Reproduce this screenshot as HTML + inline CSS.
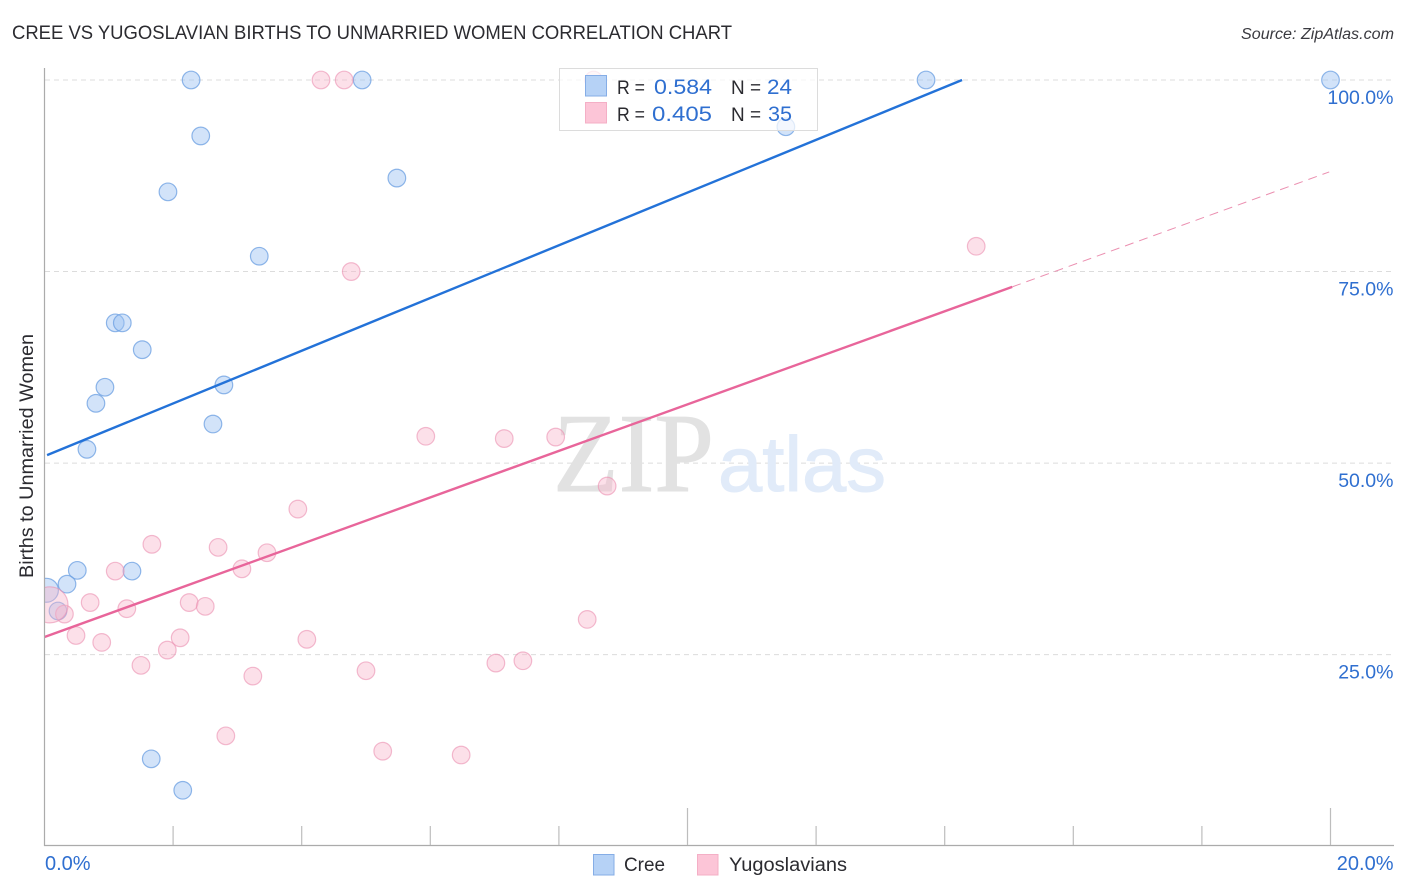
<!DOCTYPE html>
<html>
<head>
<meta charset="utf-8">
<title>Cree vs Yugoslavian Births to Unmarried Women Correlation Chart</title>
<style>
html,body{margin:0;padding:0;background:#fff;width:1406px;height:892px;overflow:hidden}
svg{display:block}
text{font-family:"Liberation Sans",sans-serif}
</style>
</head>
<body>
<svg id="chart" width="1406" height="892" viewBox="0 0 1406 892">
  <text x="12" y="39" font-size="19" fill="#2b2b30" textLength="720" lengthAdjust="spacingAndGlyphs">CREE VS YUGOSLAVIAN BIRTHS TO UNMARRIED WOMEN CORRELATION CHART</text>
  <text x="1241" y="39" font-size="15.5" font-style="italic" fill="#3a3a40" textLength="153" lengthAdjust="spacingAndGlyphs">Source: ZipAtlas.com</text>
  <text transform="translate(33,578) rotate(-90)" font-size="19" fill="#2b2b30" textLength="244" lengthAdjust="spacingAndGlyphs">Births to Unmarried Women</text>

  <g id="grid"></g>

  <g>
    <text x="553" y="491" font-size="112" fill="#e2e2e2" stroke="#e2e2e2" stroke-width="1" textLength="161" lengthAdjust="spacingAndGlyphs" style="font-family:'Liberation Serif',serif">ZIP</text>
    <text x="718" y="491" font-size="78" fill="#e1ebf9" stroke="#e1ebf9" stroke-width="1" textLength="168" lengthAdjust="spacingAndGlyphs">atlas</text>
  </g>

  <defs>
    <clipPath id="plot-clip"><rect x="45" y="60" width="1361" height="786"></rect></clipPath>
  </defs>
  <g id="points" clip-path="url(#plot-clip)"></g>
  <g id="trends"></g>
  <g id="axes"></g>

  <g>
    <rect x="559.5" y="68.5" width="258" height="62" fill="#ffffff" fill-opacity="0.72" stroke="#dcdcdc"></rect>
    <rect x="585.5" y="75.5" width="21" height="20.5" fill="#b6d2f6" stroke="#85ade6"></rect>
    <rect x="585.5" y="102.5" width="21" height="20.5" fill="#fcc5d7" stroke="#f4afc6"></rect>
    <text x="617" y="94" font-size="19.5" fill="#2b2b30" textLength="28" lengthAdjust="spacingAndGlyphs">R =</text>
    <text x="654" y="94" font-size="21" fill="#2f6fd0" textLength="58" lengthAdjust="spacingAndGlyphs">0.584</text>
    <text x="731" y="94" font-size="19.5" fill="#2b2b30" textLength="30" lengthAdjust="spacingAndGlyphs">N =</text>
    <text x="767" y="94" font-size="21" fill="#2f6fd0" textLength="25" lengthAdjust="spacingAndGlyphs">24</text>
    <text x="617" y="121" font-size="19.5" fill="#2b2b30" textLength="28" lengthAdjust="spacingAndGlyphs">R =</text>
    <text x="652" y="121" font-size="21" fill="#2f6fd0" textLength="60" lengthAdjust="spacingAndGlyphs">0.405</text>
    <text x="731" y="121" font-size="19.5" fill="#2b2b30" textLength="30" lengthAdjust="spacingAndGlyphs">N =</text>
    <text x="768" y="121" font-size="21" fill="#2f6fd0" textLength="24" lengthAdjust="spacingAndGlyphs">35</text>
  </g>

  <g>
    <rect x="593.5" y="854.5" width="20.5" height="20.5" fill="#b6d2f6" stroke="#85ade6"></rect>
    <text x="624" y="871" font-size="19" fill="#2b2b30" textLength="41" lengthAdjust="spacingAndGlyphs">Cree</text>
    <rect x="697.5" y="854.5" width="20.5" height="20.5" fill="#fcc5d7" stroke="#f4afc6"></rect>
    <text x="729" y="871" font-size="19" fill="#2b2b30" textLength="118" lengthAdjust="spacingAndGlyphs">Yugoslavians</text>
  </g>
</svg>
<script>
var creeX = [2.28,2.43,1.92,4.94,5.48,13.71,20,11.53,3.34,1.10,1.21,1.52,2.79,0.94,0.80,2.62,0.66,0.51,1.36,0.35,0.03,0.21,1.66,2.15];
var creeY = [100,92.7,85.4,100,87.2,100,100,93.9,77.0,68.3,68.3,64.8,60.2,59.9,57.8,55.1,51.8,36.0,35.9,34.2,33.4,30.7,11.4,7.3];
var creeWeight = [1,1,1,1,1,1,1,1,1,1,1,1,1,1,1,1,1,1,1,1,1.85,1,1,1];
var yugoX = [4.30,4.66,14.49,4.77,5.93,7.15,7.95,8.75,3.94,1.67,2.70,3.46,1.10,3.07,0.71,2.25,2.50,1.28,8.44,0.31,0.085,0.49,0.89,2.11,4.08,1.91,1.50,3.24,5.00,7.02,7.44,2.82,5.26,6.48,8.54];
var yugoY = [100,100,78.3,75.0,53.5,53.2,53.4,47.0,44.0,39.4,39.0,38.3,35.9,36.2,31.8,31.8,31.3,31.0,29.6,30.3,31.5,27.5,26.6,27.2,27.0,25.6,23.6,22.2,22.9,23.9,24.2,14.4,12.4,11.9,100];
var yugoWeight = [1,1,1,1,1,1,1,1,1,1,1,1,1,1,1,1,1,1,1,1,4.2,1,1,1,1,1,1,1,1,1,1,1,1,1,1];
var creeTrendX = [0.04,14.27];
var creeTrendY = [51.04,100];
var yugoTrendX = [0,15.05];
var yugoTrendY = [27.3,73.0];
var yugoDashX = [15.05,19.98];
var yugoDashY = [73.0,88.0];
var yTickValues = [100,75,50,25];
var yTickLabels = ['100.0%','75.0%','50.0%','25.0%'];
var xTickValues = [0,2,4,6,8,10,12,14,16,18,20];
var xTickMajor = [1,0,0,0,0,1,0,0,0,0,1];
var xEndValues = [0,20];
var xEndLabels = ['0.0%','20.0%'];

var NS = 'http://www.w3.org/2000/svg';
function sx(v){ return 44.5 + v * 64.3; }
function sy(v){ return 846.2 - v * 7.662; }
function mk(parent, tag, attrs){
  var el = document.createElementNS(NS, tag);
  for (var k in attrs) el.setAttribute(k, attrs[k]);
  parent.appendChild(el);
  return el;
}

var grid = document.getElementById('grid');
yTickValues.forEach(function(v, i){
  var g = mk(grid, 'line', {x1:45, x2:1393, y1:sy(v), y2:sy(v), stroke:'#dcdcdc', 'stroke-width':1, 'stroke-dasharray':'5 4'});
  
  
});

var pts = document.getElementById('points');
creeX.forEach(function(x, i){
  var c = mk(pts, 'circle', {cx:sx(x), cy:sy(creeY[i]), r:8.8*Math.sqrt(creeWeight[i]), fill:'#9cc2f2', 'fill-opacity':0.45, stroke:'#6b9fe2', 'stroke-opacity':0.75, 'stroke-width':1.2});
  
  
});
yugoX.forEach(function(x, i){
  var c = mk(pts, 'circle', {cx:sx(x), cy:sy(yugoY[i]), r:8.8*Math.sqrt(yugoWeight[i]), fill:'#f8b4cb', 'fill-opacity':0.42, stroke:'#eb8fb0', 'stroke-opacity':0.6, 'stroke-width':1.2});
  
  
});

var trends = document.getElementById('trends');
var t1 = mk(trends, 'line', {x1:sx(creeTrendX[0]), y1:sy(creeTrendY[0]), x2:sx(creeTrendX[1]), y2:sy(creeTrendY[1]), stroke:'#2372d8', 'stroke-width':2.4});


var t2 = mk(trends, 'line', {x1:sx(yugoTrendX[0]), y1:sy(yugoTrendY[0]), x2:sx(yugoTrendX[1]), y2:sy(yugoTrendY[1]), stroke:'#e8659a', 'stroke-width':2.4});


var t3 = mk(trends, 'line', {x1:sx(yugoDashX[0]), y1:sy(yugoDashY[0]), x2:sx(yugoDashX[1]), y2:sy(yugoDashY[1]), stroke:'#eb8fb0', 'stroke-width':1, 'stroke-dasharray':'9 6'});



var axes = document.getElementById('axes');
var ya = mk(axes, 'line', {x1:44.5, x2:44.5, y1:68, y2:846, stroke:'#ababab', 'stroke-width':1.2});


var xa = mk(axes, 'line', {x1:44, x2:1394, y1:845.5, y2:845.5, stroke:'#ababab', 'stroke-width':1.2});


xTickValues.forEach(function(v, i){
  if (v === 0) return;
  var tk = mk(axes, 'line', {x1:sx(v), x2:sx(v), y1:xTickMajor[i] ? 808 : 826, y2:845, stroke:'#bdbdbd', 'stroke-width':1.2});
  
  
});
yTickValues.forEach(function(v, i){
  var t = mk(axes, 'text', {x:1393.5, y:sy(v)+24, 'text-anchor':'end', 'font-size':19.5, fill:'#2f6fd0'});
  t.textContent = yTickLabels[i];
  
  
});
xEndValues.forEach(function(v, i){
  var t = mk(axes, 'text', {x:i === 0 ? sx(v)+0.5 : 1393.5, y:870, 'text-anchor':i === 0 ? 'start' : 'end', 'font-size':20, fill:'#2f6fd0'});
  t.textContent = xEndLabels[i];
  
  
});
</script>
</body>
</html>
